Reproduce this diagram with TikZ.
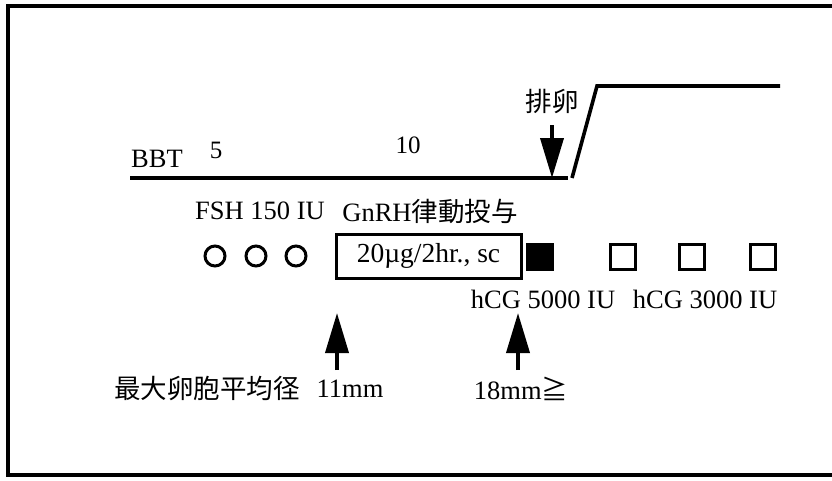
\documentclass[tikz,border=0pt]{standalone}
\usepackage{fontspec}
\setmainfont{Liberation Serif}
\newfontfamily\jpfont{Noto Sans CJK JP}
\usetikzlibrary{arrows.meta}

\begin{document}
\begin{tikzpicture}[x=1pt,y=-1pt,
  lbl/.style={inner sep=0pt,font=\fontsize{26.5}{26.5}\selectfont},
  daylbl/.style={inner sep=0pt,font=\fontsize{25}{25}\selectfont},
  jplbl/.style={inner sep=0pt,font=\fontsize{26.5}{26.5}\selectfont\jpfont},
  curve/.style={line width=3.6pt},
  fsh/.style={circle,draw,line width=3pt,minimum size=20pt,inner sep=0pt},
  hcg/.style={rectangle,draw,line width=3pt,minimum width=25pt,minimum height=25pt,inner sep=0pt},
  dosebox/.style={rectangle,draw,line width=3pt,minimum width=185pt,minimum height=44pt,inner sep=0pt,font=\fontsize{27.5}{27.5}\selectfont},
  arr/.style={-{Triangle[length=40pt,width=23pt]},line width=3.8pt}
]
\useasboundingbox (0,0) rectangle (832,480);
\draw[curve] (832,6) -- (8,6) -- (8,475) -- (832,475);
% BBT curve
\coordinate (bbtL) at (130,178);
\coordinate (bbtR) at (568,178);
\coordinate (riseL) at (572,178);
\coordinate (riseT) at (597,86);
\coordinate (highR) at (780,86);
\draw[curve] (bbtL) -- (bbtR);
\draw[curve] (riseL) -- (riseT) -- (highR);
\node[lbl] (bbt) at (157,159) {BBT};
\node[daylbl] (day5) at (216,150) {5};
\node[daylbl] (day10) at (408,145) {10};
\node[jplbl] (ovul) at (552,102) {排卵};
\coordinate (ovulTop) at (552,125);
\draw[arr] (ovulTop) -- (bbtR -| ovulTop);
% treatment row
\node[lbl] (fshlbl) at (260,211) {FSH 150 IU};
\node[lbl] (gnrhlbl) at (430,211) {GnRH{\jpfont 律動投与}};
\node[fsh] (fsh1) at (215,256) {};
\node[fsh] (fsh2) at (256,256) {};
\node[fsh] (fsh3) at (296,256) {};
\node[dosebox] (dose) at (428.5,256) {20µg/2hr., sc};
\node[hcg,fill=black] (hcg1) at (540,257) {};
\node[hcg] (hcg2) at (623,257) {};
\node[hcg] (hcg3) at (692,257) {};
\node[hcg] (hcg4) at (763,257) {};
\node[lbl] (hcg5k) at (543,299) {hCG 5000 IU};
\node[lbl] (hcg3k) at (705,299) {hCG 3000 IU};
% follicle size
\node[jplbl] (follicle) at (207,388) {最大卵胞平均径};
\node[lbl] (mm11) at (350,389) {11mm};
\node[lbl] (mm18) at (521,389) {18mm{\jpfont ≧}};
\coordinate (tip11) at (337,313);
\coordinate (base11) at (337,370);
\coordinate (tip18) at (518,313);
\coordinate (base18) at (518,370);
\draw[arr] (base11) -- (tip11);
\draw[arr] (base18) -- (tip18);
\end{tikzpicture}
\end{document}
